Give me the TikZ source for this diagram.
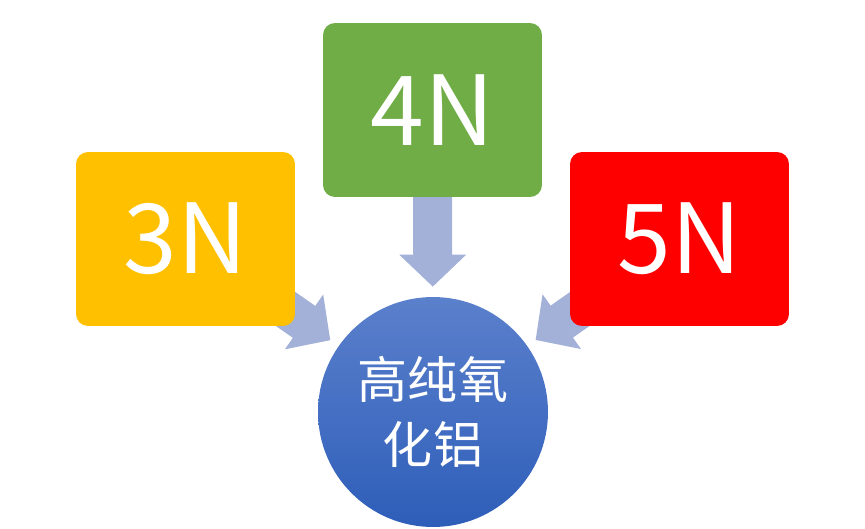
\documentclass[tikz,border=0pt]{standalone}
\usepackage{fontspec}
\setmainfont{Noto Sans CJK SC}
\usetikzlibrary{arrows.meta,backgrounds}
\definecolor{gold}{HTML}{FFC000}
\definecolor{leaf}{HTML}{70AD47}
\definecolor{fire}{HTML}{FF0000}
\definecolor{flow}{HTML}{A3B1D8}
\definecolor{balltop}{HTML}{5B80CC}
\definecolor{ballbot}{HTML}{2E5EB9}

\begin{document}
\begin{tikzpicture}[x=0.02cm,y=-0.02cm,
		grade/.style={rounded corners=0.24cm,minimum width=4.38cm,minimum height=3.48cm,text=white,font=\fontsize{55}{60}\selectfont},
		bigarrow/.style={draw=flow,line width=0.78cm,-{Triangle[width=1.3cm,length=0.64cm]},shorten >=0.2cm}]
			\useasboundingbox (0,0) rectangle (865,528);
			\node[grade,fill=gold] (n3) at (185.5,239) {3N};
			\node[grade,fill=leaf] (n4) at (432.5,110) {4N};
			\node[grade,fill=fire] (n5) at (679.5,239) {5N};
			\node[circle,minimum size=4.6cm,top color=balltop,bottom color=ballbot,text=white,align=center,font=\fontsize{28.5}{37}\selectfont] (alu) at (433,412) {高纯氧\\化铝};
			\begin{scope}[on background layer]
				\draw[bigarrow] (n3.center) -- (alu);
				\draw[bigarrow] (n4.center) -- (alu);
				\draw[bigarrow] (n5.center) -- (alu);
			\end{scope}
		\end{tikzpicture}
\end{document}
